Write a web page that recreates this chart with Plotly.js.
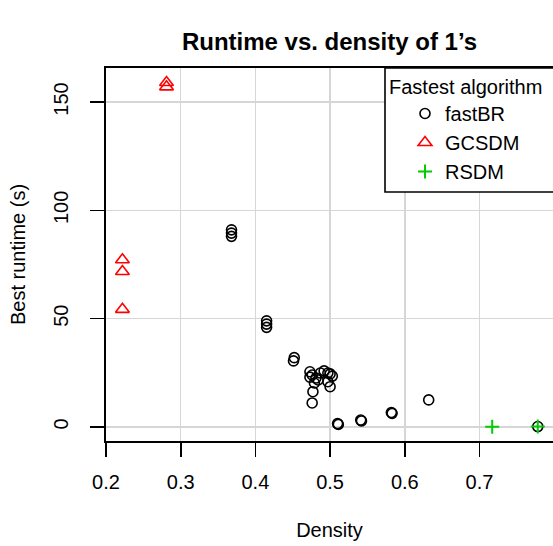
<!DOCTYPE html>
<html>
<head>
<meta charset="utf-8">
<script src="https://cdn.plot.ly/plotly-3.0.1.min.js"></script>
<style>html,body{margin:0;padding:0;background:#fff;}#chart{width:553px;height:546px;}</style>
</head>
<body>
<div id="chart"></div>
<script>
// Data
const fastBR_density = [0.368, 0.368, 0.368, 0.415, 0.415, 0.415, 0.452, 0.451,
  0.473, 0.476, 0.473, 0.481, 0.487, 0.492, 0.497, 0.500, 0.503, 0.484, 0.479,
  0.497, 0.500, 0.477, 0.476, 0.511, 0.510, 0.542, 0.541, 0.583, 0.582, 0.632, 0.778];
const fastBR_runtime = [91.0, 89.5, 88.0, 49.0, 47.5, 46.0, 32.0, 30.5,
  25.5, 24.0, 23.0, 22.6, 24.9, 25.9, 24.9, 24.5, 23.5, 21.7, 20.3,
  20.9, 18.6, 16.3, 11.1, 1.2, 1.6, 2.8, 3.2, 6.3, 6.7, 12.5, 0.2];
const GCSDM_density = [0.222, 0.222, 0.222, 0.281, 0.281];
const GCSDM_runtime = [77.2, 71.8, 54.3, 159.0, 157.0];
const RSDM_density = [0.717, 0.778];
const RSDM_runtime = [0.1, 0.2];

const xTicks = [0.2, 0.3, 0.4, 0.5, 0.6, 0.7];
const yTicks = [0, 50, 100, 150];

const FONT = "Liberation Sans, Arial, Helvetica, sans-serif";

const traces = [
  {x: fastBR_density, y: fastBR_runtime, name: "fastBR", type: "scatter", mode: "markers",
   marker: {symbol: "circle-open", size: 10, color: "#000000", line: {width: 1.6, color: "#000000"}}},
  {x: GCSDM_density, y: GCSDM_runtime, name: "GCSDM", type: "scatter", mode: "markers",
   marker: {symbol: "triangle-up-open", size: 12, color: "#FF0000", line: {width: 1.6, color: "#FF0000"}}},
  {x: RSDM_density, y: RSDM_runtime, name: "RSDM", type: "scatter", mode: "markers",
   marker: {symbol: "cross-thin-open", size: 10, color: "#00CD00", line: {width: 2, color: "#00CD00"}}}
];

const layout = {
  width: 553, height: 546,
  margin: {l: 106, r: 0, t: 68, b: 105},
  paper_bgcolor: "#ffffff", plot_bgcolor: "#ffffff",
  font: {family: FONT, size: 20, color: "#000000"},
  title: {text: "Runtime vs. density of 1’s", font: {family: FONT, size: 24, color: "#000000", weight: "bold"},
          x: 0.5, xref: "paper", xanchor: "center", y: 1 - 42/546, yref: "container", yanchor: "middle"},
  xaxis: {
    range: [0.2, 0.2 + 447/747], tickvals: xTicks, ticktext: xTicks.map(v => v.toFixed(1)),
    showgrid: true, gridcolor: "#d6d6d6", gridwidth: 1.5, zeroline: false,
    showline: true, linecolor: "#000000", linewidth: 1.6, mirror: true,
    ticks: "outside", ticklen: 14, tickwidth: 1.6, tickcolor: "#000000",
    ticklabelstandoff: 8,
    title: {text: "Density", font: {family: FONT, size: 20}, standoff: 31}
  },
  yaxis: {
    range: [-6.46, 165.7], tickvals: yTicks, ticktext: yTicks.map(String), tickangle: -90,
    showgrid: true, gridcolor: "#d6d6d6", gridwidth: 1.5, zeroline: false,
    showline: true, linecolor: "#000000", linewidth: 1.6, mirror: false,
    ticks: "outside", ticklen: 14, tickwidth: 1.6, tickcolor: "#000000",
    ticklabelstandoff: 14, automargin: true,
    title: {text: "Best runtime (s)", font: {family: FONT, size: 20}, standoff: 19}
  },
  showlegend: true,
  legend: {
    x: (387 - 106) / 447, xanchor: "left", y: 1, yanchor: "top", xref: "paper", yref: "paper",
    bgcolor: "rgba(0,0,0,0)", borderwidth: 0,
    font: {family: FONT, size: 20, color: "#000000"},
    title: {text: "Fastest algorithm", font: {family: FONT, size: 20, color: "#000000"}},
    indentation: 18, itemsizing: "trace", tracegroupgap: 0
  },
  shapes: [{
    type: "rect", xref: "paper", yref: "paper", layer: "above",
    x0: (385 - 106) / 447, x1: 1.1, y0: (441 - 192) / 373, y1: 1,
    line: {color: "#000000", width: 1.6}, fillcolor: "#ffffff"
  }]
};

Plotly.newPlot("chart", traces, layout, {displayModeBar: false, staticPlot: true});
</script>
</body>
</html>
